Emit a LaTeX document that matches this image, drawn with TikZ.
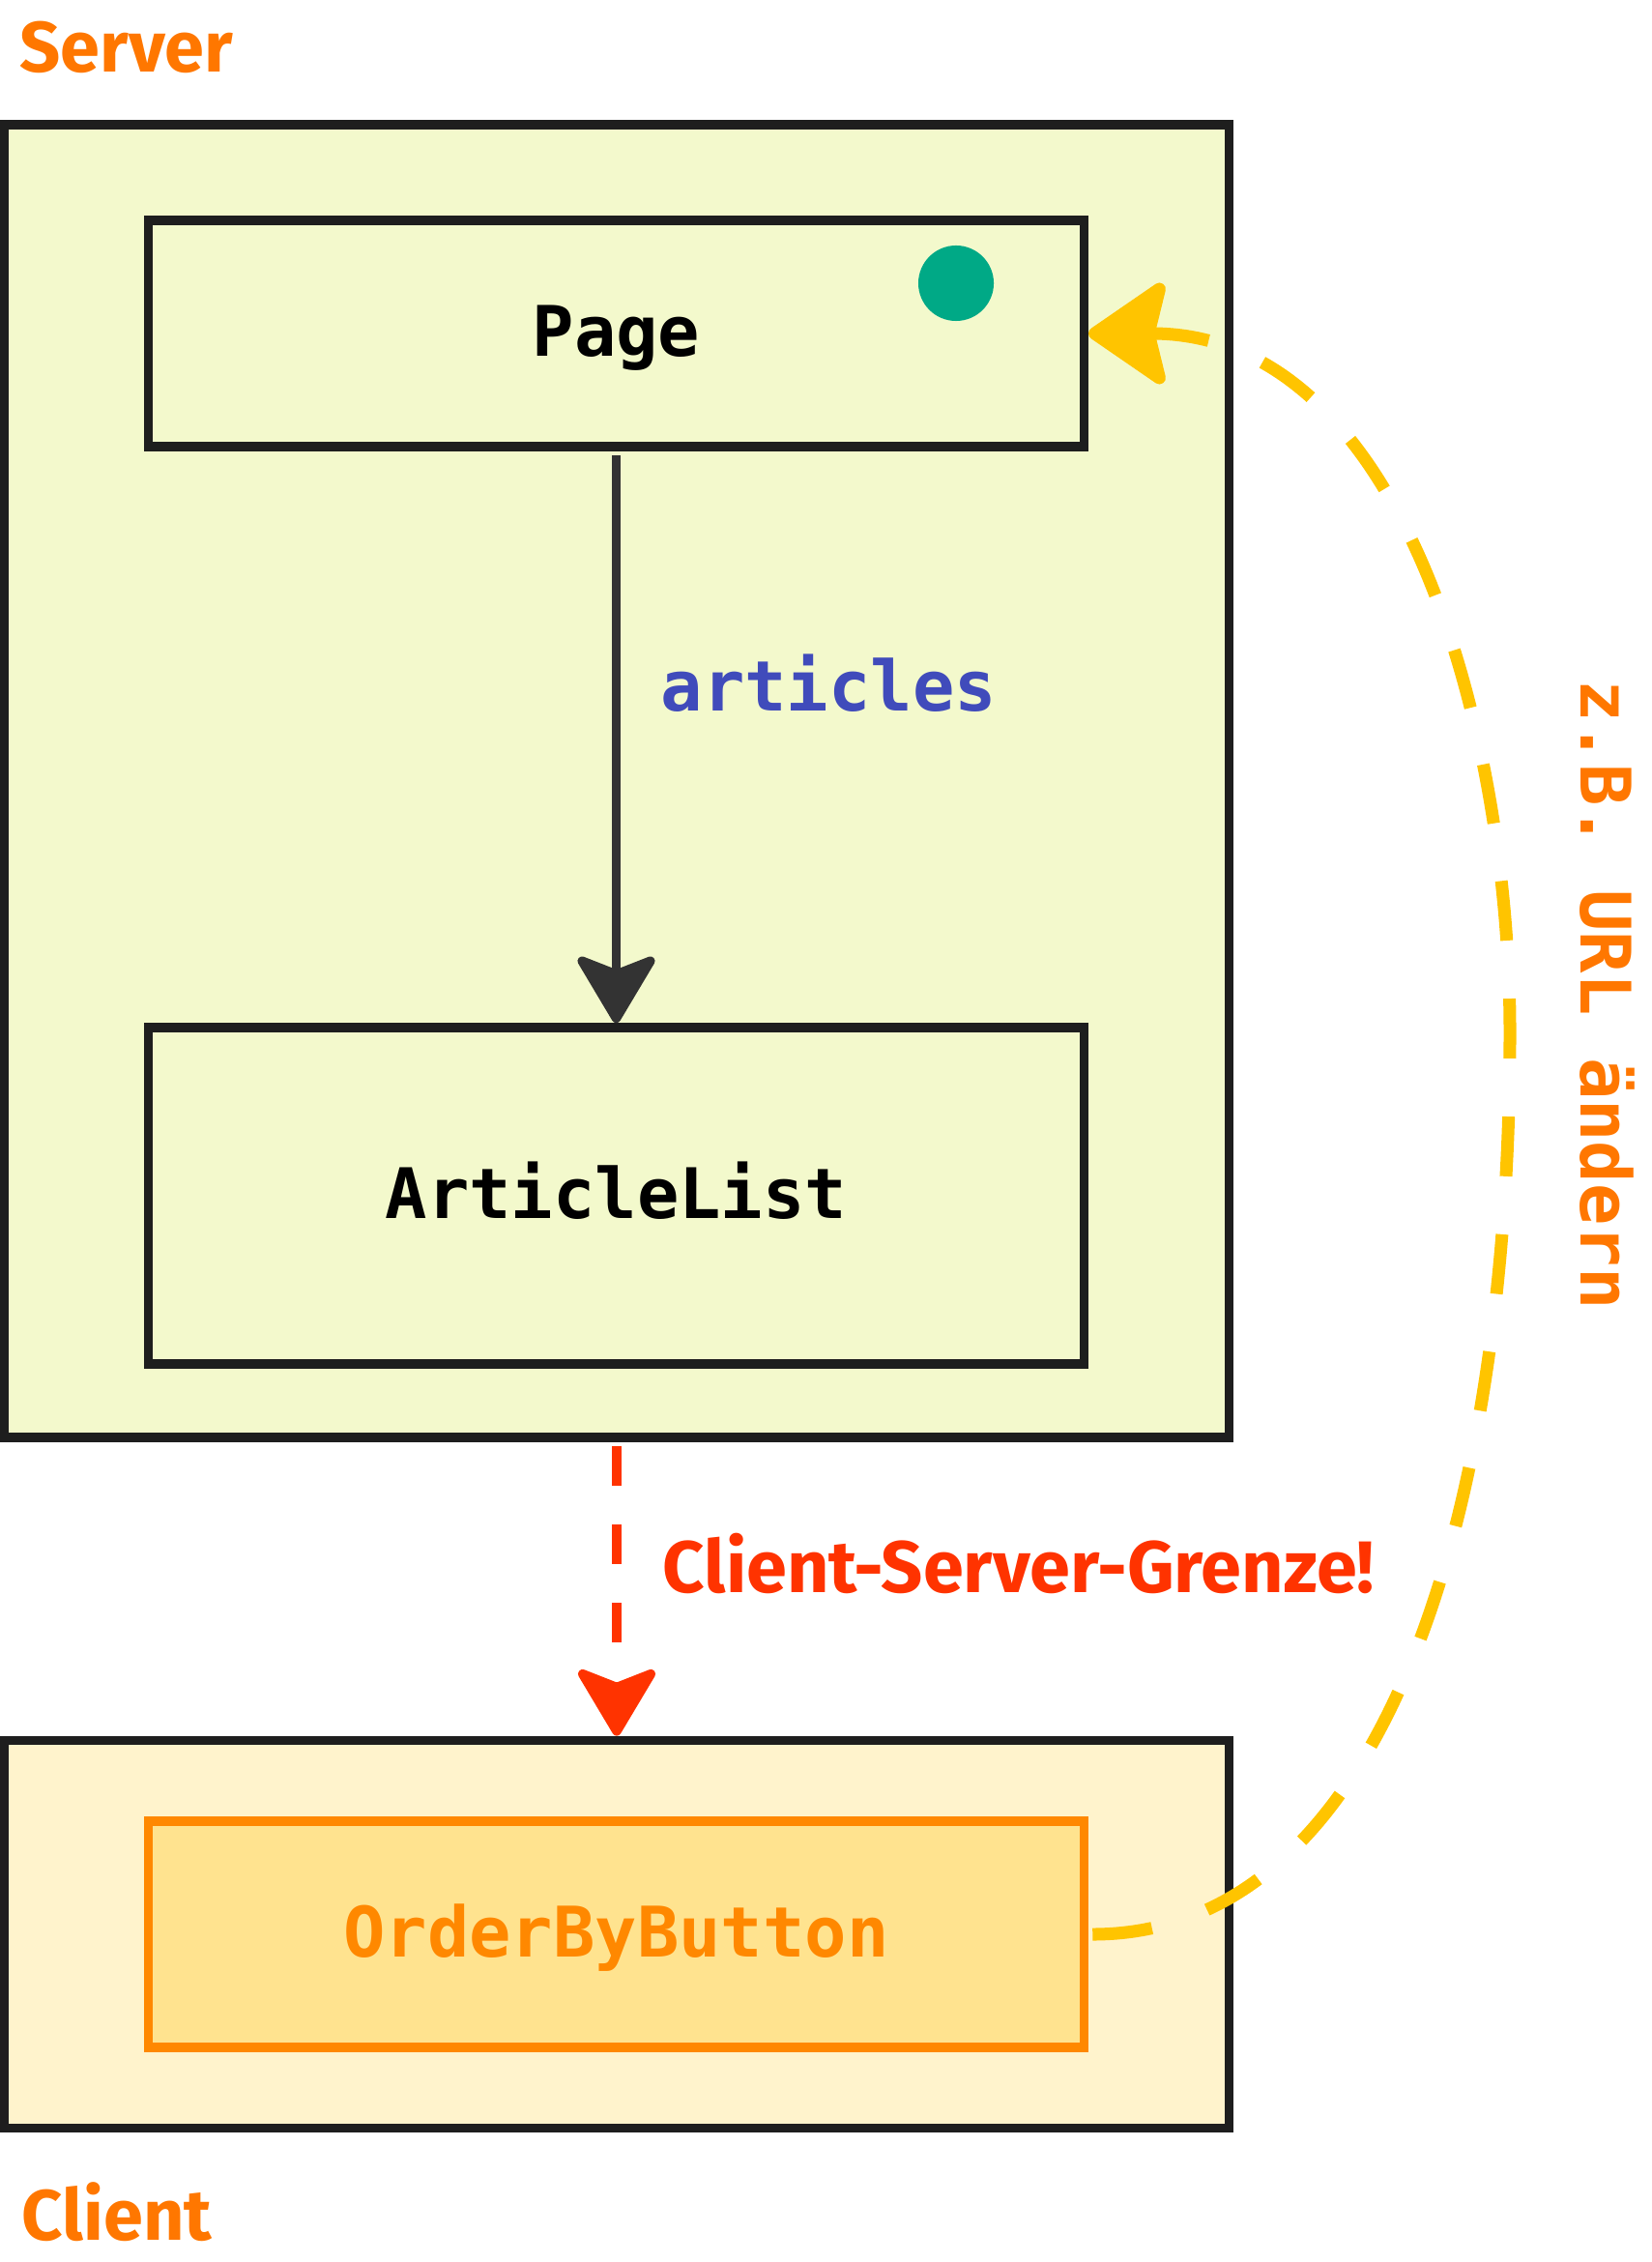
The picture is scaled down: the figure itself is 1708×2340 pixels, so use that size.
\documentclass[tikz,border=0pt]{standalone}
\usepackage{fontspec}
\setmainfont{Fira Sans}
\setmonofont{DejaVu Sans Mono}
\usetikzlibrary{arrows.meta}

\definecolor{srvfill}{RGB}{243,249,204}
\definecolor{clifill}{RGB}{255,243,204}
\definecolor{btnfill}{RGB}{255,227,143}
\definecolor{btnline}{RGB}{255,136,0}
\definecolor{lblorange}{RGB}{255,119,0}
\definecolor{boxline}{RGB}{30,30,30}
\definecolor{arrowgray}{RGB}{51,51,51}
\definecolor{dotgreen}{RGB}{0,169,134}
\definecolor{artblue}{RGB}{64,75,187}
\definecolor{urlyellow}{RGB}{255,196,0}
\definecolor{limitred}{RGB}{255,51,0}

\begin{document}
\begin{tikzpicture}[x=0.01cm, y=-0.01cm, line width=2.7pt]
    \tikzstyle{box}=[draw=boxline, rectangle, inner sep=0pt, font=\ttfamily\bfseries\fontsize{20.5}{24}\selectfont, text height=15pt, text depth=1.8pt]
    \tikzstyle{area}=[box, minimum width=12.66cm]
    \tikzstyle{comp}=[box, fill=srvfill, minimum width=9.67cm]
    \tikzstyle{annot}=[font=\bfseries\fontsize{21}{26}\selectfont, text=lblorange, inner sep=0pt]
    \tikzstyle{code}=[font=\ttfamily\bfseries\fontsize{20.5}{24}\selectfont, inner sep=0pt]
    \tikzstyle{tip}=[-{Stealth[length=22pt, width=26pt, inset=5pt, round]}]

    \useasboundingbox (0,0) rectangle (1708,2340);

    % Server and client areas
    \node[area, fill=srvfill, minimum height=13.57cm] (Srv) at (638,808) {};
    \node[area, fill=clifill, minimum height=4.01cm] (Cli) at (638,2001) {};
    \node[annot, anchor=base west] (SrvLbl) at (16,75) {Server};
    \node[annot, anchor=base west] (CliLbl) at (18,2317) {Client};

    % Components
    \node[comp, minimum height=2.34cm] (Page) at (637.5,345) {Page};
    \node[comp, minimum height=3.48cm] (List) at (637.5,1237) {ArticleList};
    \node[comp, draw=btnline, fill=btnfill, text=btnline, minimum height=2.34cm] (Btn) at (637.5,2001) {OrderByButton};
    \node[circle, fill=dotgreen, minimum size=0.78cm, inner sep=0pt] (Dot) at (989,293) {};

    % Props and boundary
    \draw[tip, draw=arrowgray, shorten <=1.2pt] (Page) -- (List);
    \node[code, text=artblue, anchor=base west] (Art) at (679,735) {articles};
    \draw[tip, draw=limitred, dash pattern=on 11.7pt off 11.4pt, shorten <=1.2pt] (Srv) -- (Cli);
    \node[annot, font=\bfseries\fontsize{21.5}{26}\selectfont, text=limitred, anchor=base west] (Grenze) at (681,1647) {Client-Server-Grenze!};

    % Navigation back to the server
    \coordinate (Bend) at (1562,1067);
    \draw[draw=urlyellow, line width=3.7pt, dash pattern=on 17.6pt off 17.1pt, shorten <=1.2pt,
        -{Stealth[length=25pt, width=34pt, inset=4pt, round]}]
        (Btn.east) .. controls +(300,0) and +(0,513) .. (Bend)
        .. controls +(0,-300) and +(330,0) .. (Page.east);
    \node[code, text=lblorange, rotate=-90, anchor=base] (Url) at (1635,1029) {z.B. URL ändern};
\end{tikzpicture}
\end{document}
